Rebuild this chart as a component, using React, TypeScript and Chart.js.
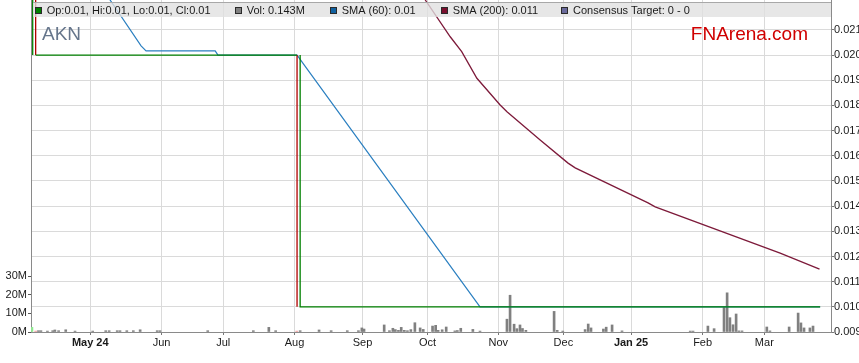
import React, { useEffect, useRef } from "react";
import { Chart, registerables } from "chart.js";

Chart.register(...registerables);

const FONT = "Arial, 'Liberation Sans', sans-serif";

// ---- X axis (trading-day index) ----
const xMin = 0;
const xMax = 258;
const monthTickPos = [19.1, 42.1, 62.0, 85.0, 106.9, 127.9, 150.7, 171.7, 193.5, 216.6, 236.5];
const monthTickLabels = ["May 24", "Jun", "Jul", "Aug", "Sep", "Oct", "Nov", "Dec", "Jan 25", "Feb", "Mar"];
const boldMonthLabels = ["May 24", "Jan 25"];

// ---- Price axis ----
const priceMin = 0.009;
const priceMax = 0.02219;
const priceTicks = [0.009, 0.01, 0.011, 0.012, 0.013, 0.014, 0.015, 0.016, 0.017, 0.018, 0.019, 0.02, 0.021];

// ---- Volume axis (millions) ----
const volMax = 178.8;
const volTicks = [0, 10, 20, 30];

// ---- Close price line (green) with breaks ----
const closeX = [0.55, 0.55, 0.55, 1.5, 85.8, 85.8, 86.8, 86.8, 254.5];
const closeY = [0.023, 0.02, null, 0.02, 0.02, null, 0.02, 0.01, 0.01];

// ---- Down moves (red) ----
const downX = [1.5, 1.5, 1.5, 85.8, 85.8];
const downY = [0.023, 0.02, null, 0.02, 0.01];

// ---- SMA (60) ----
const sma60X = [22, 25.5, 35.5, 37.1, 59.4, 60.3, 85.8, 144.8, 254.5];
const sma60Y = [0.02283, 0.02219, 0.02037, 0.02017, 0.02017, 0.02, 0.02, 0.01, 0.01];

// ---- SMA (200) ----
const sma200X = [124, 127.1, 135.2, 138.9, 143.8, 151.3, 153.5, 164.2, 173.2, 175.5, 199.0, 201.3, 241.6, 254.3];
const sma200Y = [0.02277, 0.0222, 0.02073, 0.02014, 0.01908, 0.01802, 0.01775, 0.01663, 0.01571, 0.01552, 0.01413, 0.01397, 0.01213, 0.0115];

// ---- Volume (millions) ----
const volUpX = [0.3];
const volUpY = [2.5];
const volDownX = [1.5, 85.7];
const volDownY = [0.5, 0.5];
const volX = [
  2.4, 3.2, 5.3, 7.0, 7.7, 8.9, 11.2, 14.2, 19.9, 24.1, 25.2, 27.8, 28.7, 30.9, 33.0, 35.2, 40.7, 41.6, 57.0, 71.7, 76.7, 78.9,
  86.8, 92.9, 96.8, 102.0, 105.6, 106.7, 107.4, 113.9, 115.6, 116.7, 117.5, 118.5, 119.4, 120.4, 121.4, 122.5, 123.8, 125.5, 126.5,
  129.5, 130.5, 131.3, 132.6, 133.9, 136.7, 137.5, 138.6, 142.5, 144.8,
  153.5, 154.5, 155.8, 156.7, 157.7, 158.5, 159.6, 168.7, 169.7, 171.5, 178.7, 179.7, 180.6, 184.6, 185.5, 187.4, 190.6, 212.6,
  213.5, 218.3, 220.3, 223.5, 224.5, 225.4, 226.4, 227.4, 228.3, 229.3, 237.3, 238.3, 244.5, 247.4, 248.3, 249.3, 251.2, 252.2,
];
const volY = [
  0.7, 0.7, 0.5, 0.7, 1.1, 0.7, 1.2, 0.5, 0.5, 0.7, 0.7, 0.7, 0.7, 0.7, 0.7, 1.2, 0.7, 0.7, 0.7, 0.7, 2.5, 0.7,
  0.7, 1.1, 0.7, 0.7, 0.7, 2.2, 1.6, 3.8, 0.7, 2.0, 1.3, 0.9, 2.5, 0.9, 0.7, 1.3, 5.0, 2.2, 1.4,
  3.2, 3.6, 0.9, 1.2, 2.7, 0.6, 0.8, 2.0, 1.4, 0.5,
  6.9, 19.8, 4.2, 1.8, 3.8, 1.9, 0.9, 11.1, 0.9, 0.5, 1.3, 4.3, 2.2, 1.6, 2.6, 3.8, 0.6, 0.5,
  0.5, 3.2, 1.8, 13.2, 21.1, 7.7, 3.9, 9.7, 0.6, 0.6, 2.7, 0.6, 2.7, 10.2, 4.9, 2.2, 2.2, 3.2,
];

// ---- Header legend ----
const headerLabels = [
  "Op:0.01, Hi:0.01, Lo:0.01, Cl:0.01",
  "Vol: 0.143M",
  "SMA (60): 0.01",
  "SMA (200): 0.011",
  "Consensus Target: 0 - 0",
];
const tickerLabel = "AKN";
const brandLabel = "FNArena.com";

const pts = (xs: number[], ys: (number | null)[]) => xs.map((x, i) => ({ x, y: ys[i] }));

const headerPlugin = {
  id: "headerOverlay",
  afterDatasetsDraw(chart: any) {
    const ctx = chart.ctx as CanvasRenderingContext2D;
    const { right } = chart.chartArea;
    const headerLeft = 33;
    const textX = [46.7, 246.7, 341.7, 452.7, 573];
    const colors = ["#008000", "#808080", "#10609f", "#7a0f2e", "#6a6a9c"];
    ctx.save();
    ctx.fillStyle = "rgba(224,224,224,0.78)";
    ctx.fillRect(headerLeft, 3, right - headerLeft, 14);
    ctx.strokeStyle = "#a8a8a8";
    ctx.lineWidth = 1;
    ctx.beginPath();
    ctx.moveTo(headerLeft, 2.5);
    ctx.lineTo(right, 2.5);
    ctx.stroke();
    ctx.font = `11px ${FONT}`;
    ctx.textBaseline = "alphabetic";
    ctx.textAlign = "left";
    headerLabels.forEach((t, i) => {
      const sx = Math.round(textX[i] - 12);
      ctx.fillStyle = colors[i];
      ctx.fillRect(sx, 7, 7, 7);
      ctx.strokeStyle = "#2a2a2a";
      ctx.strokeRect(sx + 0.5, 7.5, 6, 6);
      ctx.fillStyle = "#1a1a1a";
      ctx.fillText(t, textX[i], 14);
    });
    ctx.font = `19px ${FONT}`;
    ctx.fillStyle = "#66768c";
    ctx.fillText(tickerLabel, 42, 39.5);
    ctx.textAlign = "right";
    ctx.fillStyle = "#d00000";
    ctx.fillText(brandLabel, 808, 39.5);
    ctx.restore();
  },
};

export default function App() {
  const ref = useRef<HTMLCanvasElement>(null);
  useEffect(() => {
    if (!ref.current) return;
    Chart.defaults.font.family = FONT;
    const chart = new Chart(ref.current, {
      type: "line",
      data: {
        datasets: [
          {
            type: "line",
            label: "Close",
            data: pts(closeX, closeY) as any,
            borderColor: "#008000",
            borderWidth: 1.3,
            pointRadius: 0,
            spanGaps: false,
            tension: 0,
            yAxisID: "y",
            order: 0,
          },
          {
            type: "line",
            label: "Down",
            data: pts(downX, downY) as any,
            borderColor: "#b00000",
            borderWidth: 1.3,
            pointRadius: 0,
            spanGaps: false,
            tension: 0,
            yAxisID: "y",
            order: 1,
          },
          {
            type: "line",
            label: "SMA (60)",
            data: pts(sma60X, sma60Y) as any,
            borderColor: "#2a7fc0",
            borderWidth: 1.2,
            pointRadius: 0,
            tension: 0,
            yAxisID: "y",
            order: 2,
          },
          {
            type: "line",
            label: "SMA (200)",
            data: pts(sma200X, sma200Y) as any,
            borderColor: "#7d1a3a",
            borderWidth: 1.3,
            pointRadius: 0,
            tension: 0,
            yAxisID: "y",
            order: 3,
          },
          {
            type: "bar",
            label: "Vol",
            data: pts(volX, volY) as any,
            backgroundColor: "#808080",
            barThickness: 2,
            grouped: false,
            yAxisID: "yVol",
            order: 4,
          },
          {
            type: "bar",
            label: "Vol up",
            data: pts(volUpX, volUpY) as any,
            backgroundColor: "#90e890",
            barThickness: 2,
            grouped: false,
            yAxisID: "yVol",
            order: 5,
          },
          {
            type: "bar",
            label: "Vol down",
            data: pts(volDownX, volDownY) as any,
            backgroundColor: "#f0a0a0",
            barThickness: 2,
            grouped: false,
            yAxisID: "yVol",
            order: 6,
          },
        ] as any,
      },
      options: {
        responsive: false,
        animation: false,
        devicePixelRatio: 1,
        layout: { padding: 0 },
        plugins: { legend: { display: false }, tooltip: { enabled: false }, title: { display: false } },
        scales: {
          x: {
            type: "linear",
            min: xMin,
            max: xMax,
            bounds: "data",
            offset: false,
            afterBuildTicks: (s: any) => {
              s.ticks = monthTickPos.map((v) => ({ value: v }));
            },
            afterFit: (s: any) => {
              s.height = 31;
              s.paddingLeft = 0;
              s.paddingRight = 0;
            },
            ticks: {
              autoSkip: false,
              maxRotation: 0,
              padding: 1,
              color: "#1a1a1a",
              callback: (_v: any, i: number) => monthTickLabels[i],
              font: (c: any) => ({
                size: 11,
                family: FONT,
                weight: boldMonthLabels.includes(monthTickLabels[c.index]) ? "bold" : "normal",
              }),
            },
            grid: { color: "#dadada", tickColor: "#777", tickLength: 3, offset: false },
            border: { color: "#8a8a8a" },
          } as any,
          y: {
            type: "linear",
            position: "right",
            min: priceMin,
            max: priceMax,
            bounds: "data",
            afterBuildTicks: (s: any) => {
              s.ticks = priceTicks.map((v) => ({ value: v }));
            },
            afterFit: (s: any) => {
              s.width = 28;
              s.paddingTop = 0;
              s.paddingBottom = 0;
            },
            ticks: {
              padding: 0,
              color: "#1a1a1a",
              font: { size: 11, family: FONT },
              callback: (v: any) => Number(v).toFixed(3),
            },
            grid: { color: "#dadada", tickColor: "#777", tickLength: 3 },
            border: { color: "#8a8a8a" },
          } as any,
          yVol: {
            type: "linear",
            position: "left",
            min: 0,
            max: volMax,
            bounds: "data",
            afterBuildTicks: (s: any) => {
              s.ticks = volTicks.map((v) => ({ value: v }));
            },
            afterFit: (s: any) => {
              s.width = 31;
              s.paddingTop = 0;
              s.paddingBottom = 0;
            },
            ticks: {
              padding: 1,
              color: "#1a1a1a",
              font: { size: 11, family: FONT },
              callback: (v: any) => `${v}M`,
            },
            grid: { drawOnChartArea: false, tickColor: "#555", tickLength: 3 },
            border: { color: "#8a8a8a" },
          } as any,
        },
      },
      plugins: [headerPlugin],
    });
    return () => chart.destroy();
  }, []);
  return (
    <div style={{ position: "fixed", left: 0, top: 0, width: 859, height: 363, background: "#fff", overflow: "hidden" }}>
      <canvas ref={ref} width={859} height={363} style={{ display: "block", width: 859, height: 363 }} />
    </div>
  );
}
